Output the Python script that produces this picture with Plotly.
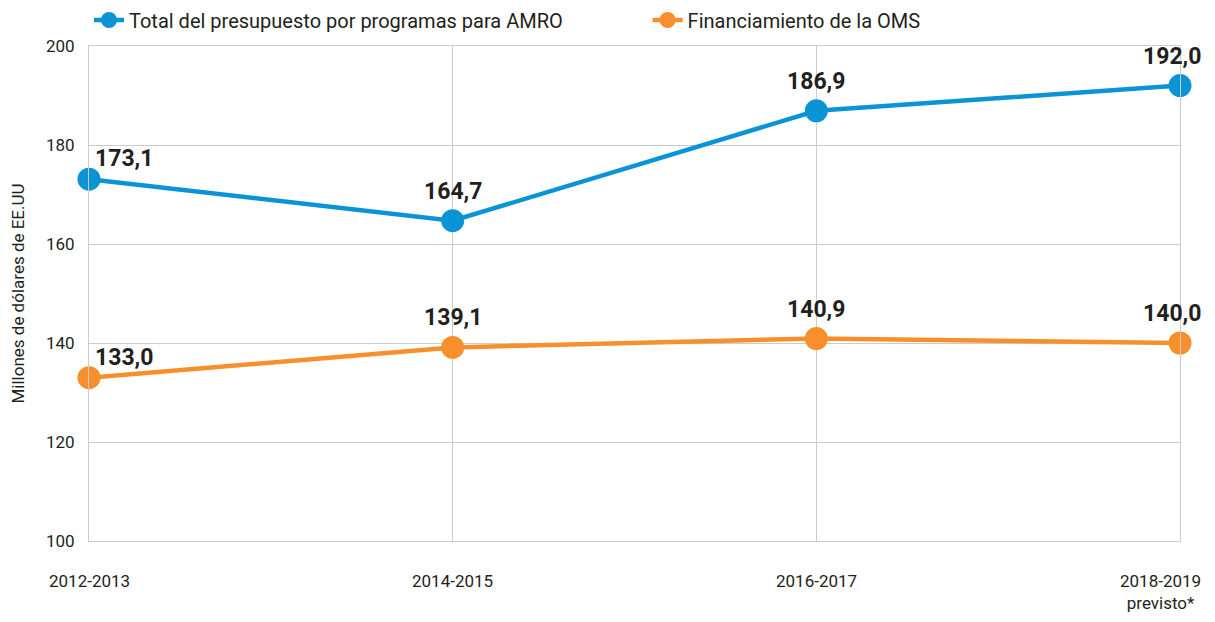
import plotly.graph_objects as go

categories = ["2012-2013", "2014-2015", "2016-2017", "2018-2019<br>previsto*"]
total_amro = [173.1, 164.7, 186.9, 192.0]
financ_oms = [133.0, 139.1, 140.9, 140.0]
series_names = ["Total del presupuesto por programas para AMRO", "Financiamiento de la OMS"]
y_ticks = [100, 120, 140, 160, 180, 200]

BLUE = "#0a94d6"
ORANGE = "#f7902c"
FONT = "Roboto, sans-serif"
TXT = "#231f20"

xs = list(range(len(categories)))
fig = go.Figure()
for name, vals, col, lg in [(series_names[0], total_amro, BLUE, "legend"),
                            (series_names[1], financ_oms, ORANGE, "legend2")]:
    fig.add_trace(go.Scatter(
        x=xs, y=vals, name=name, mode="lines+markers",
        line=dict(color=col, width=4.5),
        marker=dict(color=col, size=23),
        cliponaxis=False, legend=lg,
    ))

# data labels
for vals in (total_amro, financ_oms):
    for i, v in enumerate(vals):
        txt = f"{v:.1f}".replace(".", ",")
        if i == 0:
            fig.add_annotation(x=i, y=v, text=f"<b>{txt}</b>", showarrow=False,
                               xanchor="left", yanchor="bottom", xshift=4, yshift=5,
                               font=dict(size=23, color=TXT, family=FONT))
        else:
            fig.add_annotation(x=i, y=v, text=f"<b>{txt}</b>", showarrow=False,
                               xanchor="center", yanchor="bottom",
                               xshift=-8 if i == len(vals) - 1 else 0, yshift=14,
                               font=dict(size=23, color=TXT, family=FONT))

# x tick labels
for i, c in enumerate(categories):
    fig.add_annotation(x=i, y=0, xref="x", yref="paper", text=c, showarrow=False,
                       yanchor="top", yshift=-28, xanchor="center",
                       xshift=-20 if i == len(categories) - 1 else 0,
                       font=dict(size=17, color=TXT, family=FONT))

leg_common = dict(orientation="h", xanchor="left", yref="container",
                  y=1 - 20 / 622, yanchor="middle",
                  font=dict(size=20, color=TXT, family=FONT),
                  bgcolor="rgba(0,0,0,0)")

fig.update_layout(
    width=1215, height=622,
    margin=dict(l=89, r=35, t=46, b=81, autoexpand=False),
    plot_bgcolor="white", paper_bgcolor="white",
    font=dict(family=FONT, color=TXT, size=17),
    showlegend=True,
    legend=dict(x=0.0, **leg_common),
    legend2=dict(x=0.512, **leg_common),
    xaxis=dict(range=[0, 3], tickvals=xs, showticklabels=False, showgrid=True,
               gridcolor="#cccccc", gridwidth=1, showline=True, linecolor="#cccccc",
               mirror=True, zeroline=False, fixedrange=True),
    yaxis=dict(range=[100, 200], tickvals=y_ticks, showgrid=True, gridcolor="#cccccc",
               showline=True, linecolor="#cccccc", mirror=True, zeroline=False,
               ticks="", ticklabelstandoff=10,
               tickfont=dict(size=17, color=TXT, family=FONT),
               title=dict(text="Millones de dólares de EE.UU", standoff=16,
                          font=dict(size=17, color=TXT, family=FONT))),
)
fig.write_html("out.html", config={"displayModeBar": False},
               post_script="document.body.style.margin='0';")
